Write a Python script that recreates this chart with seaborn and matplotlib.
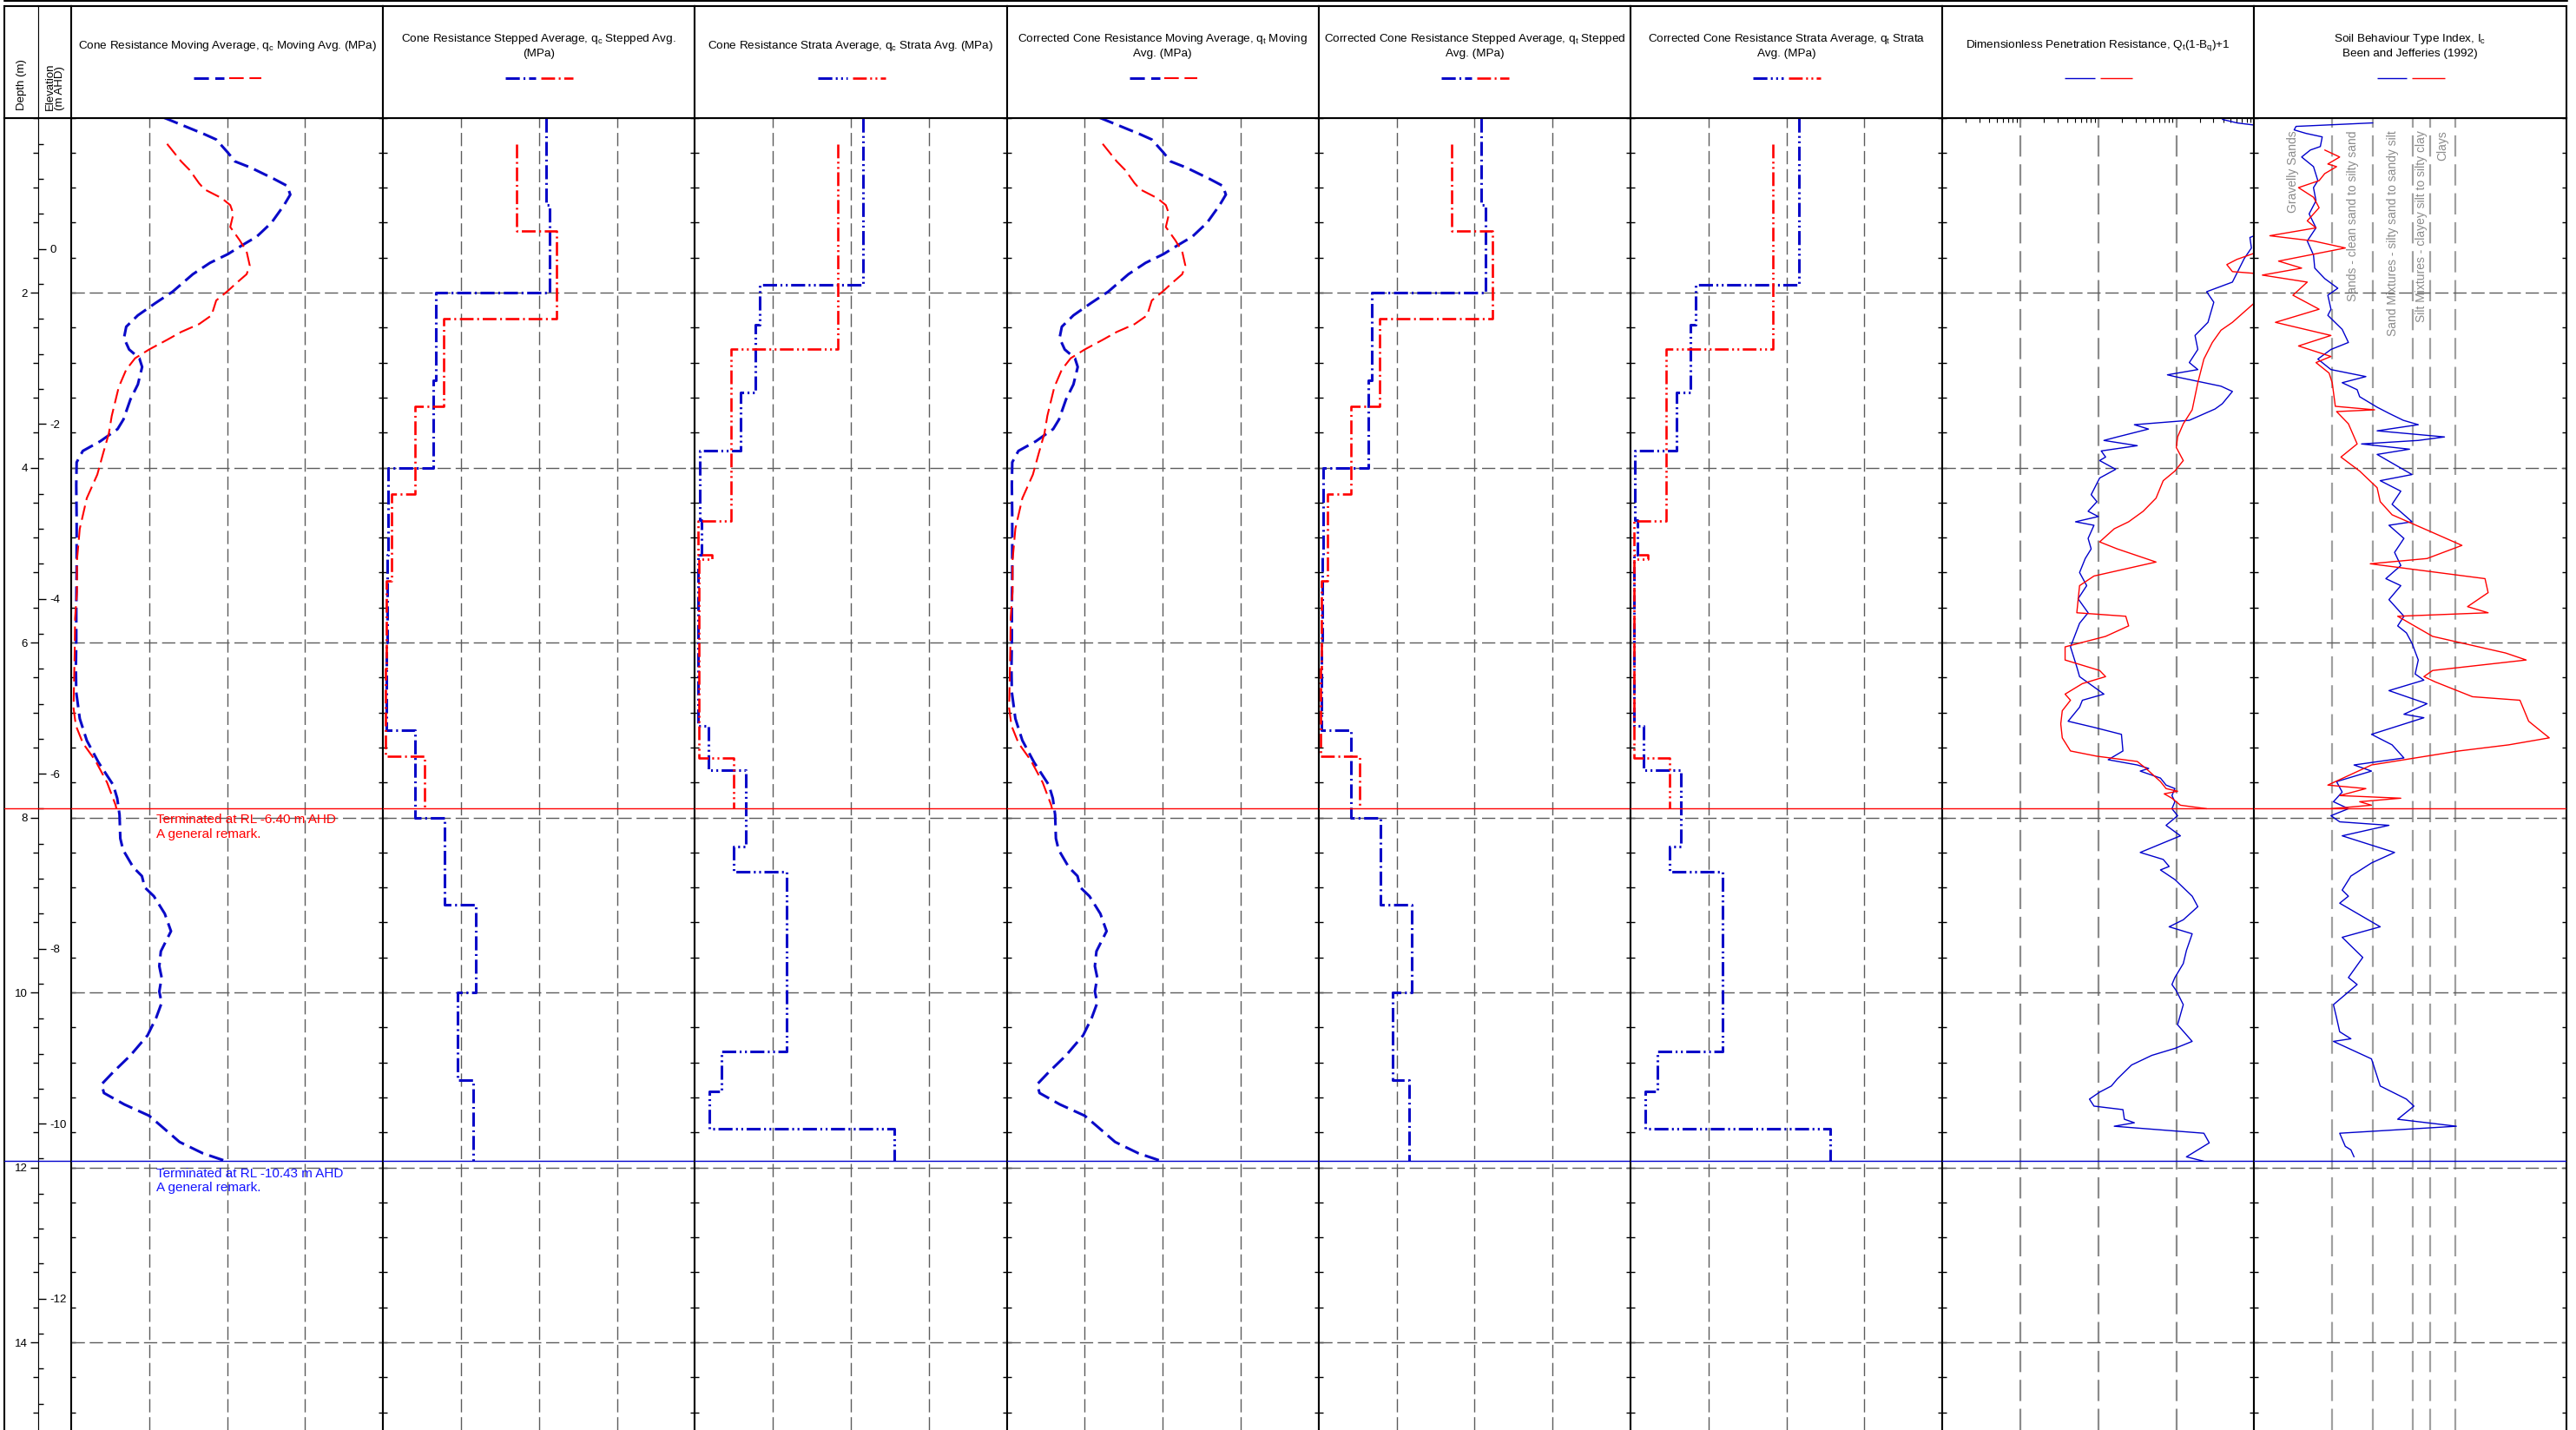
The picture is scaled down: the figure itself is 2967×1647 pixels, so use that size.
import numpy as np
import matplotlib
matplotlib.use("Agg")
import matplotlib.pyplot as plt
import matplotlib.transforms as mtransforms
from matplotlib.lines import Line2D
from matplotlib.ticker import MultipleLocator, LogLocator, NullFormatter
import seaborn as sns

# ---------------------------------------------------------------- data
ground_rl = 1.50
term_rl_red = -6.40
term_rl_blue = -10.43

# moving average of cone resistance (MPa) against depth (m)
mov_blue_depth = [0.0, 0.19, 0.25, 0.40, 0.50, 0.57, 0.70, 0.78, 0.88, 1.00, 1.20, 1.36, 1.46,
                  1.56, 1.66, 1.79, 1.99, 2.12, 2.26, 2.39, 2.52, 2.65, 2.75, 2.85, 3.05, 3.22,
                  3.45, 3.56, 3.70, 3.81, 3.94, 4.20, 4.60, 5.20, 5.60, 5.96, 6.30, 6.57, 6.87,
                  7.12, 7.37, 7.63, 7.78, 7.97, 8.24, 8.37, 8.57, 8.67, 8.80, 8.90, 9.10, 9.30,
                  9.53, 9.70, 9.83, 9.99, 10.12, 10.29, 10.49, 10.72, 10.91, 11.05, 11.15,
                  11.28, 11.41, 11.54, 11.71, 11.84, 11.93]
mov_blue_qc = [11.9, 17.1, 18.6, 20.1, 21.0, 23.0, 26.0, 27.7, 28.1, 27.3, 25.7, 23.8, 21.9,
               20.1, 17.8, 15.6, 13.0, 10.8, 8.55, 7.06, 6.77, 7.43, 8.74, 9.1, 8.55, 7.6,
               6.7, 5.95, 3.72, 1.49, 0.7, 0.65, 0.7, 0.7, 0.65, 0.65, 0.6, 0.65, 1.1,
               2.0, 3.5, 5.4, 5.9, 6.2, 6.3, 6.65, 7.96, 9.07, 9.44, 10.6, 12.0, 12.8,
               11.5, 11.3, 11.6, 11.3, 11.6, 10.9, 9.8, 7.6, 5.4, 3.9, 4.2,
               6.8, 10.0, 11.7, 13.9, 16.9, 19.9]
mov_red_depth = [0.30, 0.50, 0.60, 0.75, 0.82, 0.92, 1.00, 1.10, 1.25, 1.40, 1.53, 1.69, 1.79,
                 1.89, 1.98, 2.09, 2.26, 2.36, 2.45, 2.54, 2.65, 2.75, 2.88, 3.08, 3.41, 3.61,
                 3.84, 4.08, 4.35, 4.70, 5.06, 5.42, 5.72, 6.10, 6.44, 6.75, 6.95, 7.15, 7.35,
                 7.60, 7.86, 7.90]
mov_red_qc = [12.3, 14.1, 15.2, 16.4, 17.1, 19.3, 20.4, 20.8, 20.4, 21.6, 22.5, 22.9, 22.5,
              21.2, 20.1, 18.6, 18.0, 16.4, 14.1, 12.3, 10.0, 8.2, 7.06, 6.1, 5.2, 4.83,
              4.09, 3.35, 2.0, 1.1, 0.74, 0.74, 0.5, 0.45, 0.37, 0.3, 0.6, 1.5, 3.1,
              4.6, 5.7, 5.8]

# 1 m stepped averages (edges in m, values in MPa)
step_blue_edges = [0.0, 1.0, 2.0, 3.0, 4.0, 5.0, 6.0, 7.0, 8.0, 9.0, 10.0, 11.0, 11.93]
step_blue_qc = [20.9, 21.4, 6.8, 6.4, 0.6, 0.5, 0.4, 4.1, 7.9, 11.9, 9.5, 11.6]
step_red_edges = [0.3, 1.3, 2.3, 3.3, 4.3, 5.3, 6.3, 7.3, 7.9]
step_red_qc = [17.1, 22.3, 7.8, 4.1, 1.1, 0.4, 0.3, 5.3]

# strata averages
strata_blue_edges = [0.0, 1.91, 2.37, 3.14, 3.81, 4.6, 5.0, 6.95, 7.46, 8.33, 8.62, 10.67,
                     11.13, 11.56, 11.93]
strata_blue_qc = [21.6, 8.3, 7.7, 5.9, 0.6, 0.9, 0.4, 1.7, 6.5, 5.0, 11.8, 3.4, 1.9, 25.6]
strata_red_edges = [0.3, 2.65, 4.61, 5.0, 5.05, 7.32, 7.9]
strata_red_qc = [18.3, 4.6, 0.4, 2.2, 0.5, 5.0]

# corrected cone resistance traces coincide with the uncorrected ones at this scale
mov_blue_qt, mov_red_qt = mov_blue_qc, mov_red_qc
step_blue_qt, step_red_qt = step_blue_qc, step_red_qc
strata_blue_qt, strata_red_qt = strata_blue_qc, strata_red_qc

# dimensionless penetration resistance Qt(1-Bq)+1
q_blue_depth = [0.02, 0.06, 0.085, 0.15, 1.30, 1.35, 1.37, 1.49, 1.61, 1.88, 1.99, 2.11, 2.34,
                2.49, 2.65, 2.80, 2.88, 2.94, 2.96, 3.07, 3.13, 3.27, 3.33, 3.46, 3.51, 3.56,
                3.65, 3.69, 3.75, 3.81, 3.88, 3.92, 4.02, 4.12, 4.31, 4.39, 4.50, 4.56, 4.62,
                4.66, 4.81, 4.93, 5.04, 5.20, 5.35, 5.50, 5.66, 5.78, 6.05, 6.28, 6.39, 6.59,
                6.66, 6.74, 6.90, 6.97, 7.05, 7.24, 7.34, 7.40, 7.44, 7.47, 7.55, 7.63, 7.67,
                7.75, 7.82, 7.90, 7.98, 8.09, 8.21, 8.40, 8.48, 8.56, 8.60, 8.71, 8.90, 9.02,
                9.17, 9.25, 9.33, 9.52, 9.67, 9.83, 9.91, 9.98, 10.14, 10.37, 10.56, 10.64,
                10.72, 10.83, 10.99, 11.07, 11.14, 11.22, 11.30, 11.34, 11.45, 11.49, 11.53,
                11.61, 11.72, 11.88, 11.93]
q_blue = [390, 600, 1000, 1500, 1500, 1000, 880, 920, 745, 525, 245, 303, 255,
          174, 189, 147, 189, 77, 96, 375, 525, 390, 315, 147, 29, 44,
          17.5, 11.8, 31.6, 10.9, 12.4, 10.4, 16.7, 10.4, 8.1, 9.6, 7.4, 10.0, 5.1,
          8.8, 7.4, 8.1, 6.8, 5.75, 7.1, 5.5, 7.4, 5.75, 4.4, 5.3, 5.75, 11.8,
          6.25, 5.75, 4.1, 8.8, 19.8, 20.7, 13.4, 31.6, 44.3, 34.5, 62.7, 74, 96,
          88, 96, 88, 104, 74, 113, 34.5, 68, 81, 62.7, 96, 160, 189,
          123, 81, 160, 135, 123, 96, 88, 100, 123, 104, 160, 96,
          48.5, 26.7, 17.5, 14.7, 10.4, 7.7, 8.8, 20.7, 21.6, 29, 16,
          226, 265, 135, 226]
q_red_depth = [0.30, 1.50, 1.55, 1.62, 1.68, 1.76, 1.78, 1.80, 2.10, 2.12, 2.22, 2.34, 2.43,
               2.57, 2.76, 3.03, 3.34, 3.50, 3.65, 3.77, 3.92, 4.04, 4.15, 4.35, 4.50, 4.62,
               4.70, 4.85, 4.93, 5.08, 5.24, 5.35, 5.66, 5.70, 5.81, 5.93, 6.05, 6.20, 6.32,
               6.39, 6.47, 6.59, 6.66, 6.78, 6.93, 7.09, 7.24, 7.30, 7.36, 7.44, 7.59, 7.67,
               7.70, 7.73, 7.78, 7.86, 7.90]
q_red = [2000, 2000, 1000, 600, 445, 525, 1000, 2000, 2000, 1000, 745, 525, 375,
         290, 226, 189, 160, 123, 104, 100, 123, 96, 68, 55, 37.6, 24.5,
         16, 10.4, 17.5, 55, 8.8, 5.75, 5.3, 22.5, 24.5, 12.4, 3.75, 3.75, 10.4,
         12.4, 6.25, 3.75, 4.4, 3.45, 3.3, 3.45, 4.4, 9.6, 31.6, 40.9, 62.7, 74,
         104, 70, 88, 113, 245]

# soil behaviour type index Ic
ic_blue_depth = [0.06, 0.10, 0.14, 0.18, 0.22, 0.33, 0.37, 0.45, 0.56, 0.72, 0.80, 0.95, 1.10,
                 1.26, 1.41, 1.57, 1.72, 1.84, 1.95, 2.03, 2.19, 2.26, 2.42, 2.57, 2.65, 2.76,
                 2.88, 2.96, 3.03, 3.11, 3.19, 3.31, 3.38, 3.46, 3.51, 3.58, 3.65, 3.69, 3.73,
                 3.79, 3.85, 4.08, 4.15, 4.27, 4.42, 4.62, 4.66, 4.81, 4.97, 5.12, 5.27, 5.35,
                 5.51, 5.70, 5.81, 5.89, 6.01, 6.20, 6.36, 6.43, 6.55, 6.70, 6.82, 6.86, 7.05,
                 7.17, 7.32, 7.40, 7.47, 7.59, 7.71, 7.82, 7.90, 7.98, 8.05, 8.09, 8.21, 8.40,
                 8.52, 8.67, 8.83, 8.90, 8.98, 9.25, 9.37, 9.60, 9.83, 9.91, 10.14, 10.29,
                 10.45, 10.53, 10.56, 10.76, 11.07, 11.22, 11.30, 11.45, 11.53, 11.61, 11.76,
                 11.80, 11.88]
ic_blue = [1.90, 0.67, 0.64, 0.83, 1.09, 1.06, 0.90, 0.76, 0.95, 1.02, 0.95, 0.99, 0.88,
           0.99, 0.85, 0.95, 0.97, 1.13, 1.34, 1.18, 1.23, 1.18, 1.41, 1.51, 1.23, 1.02,
           1.23, 1.79, 1.41, 1.65, 1.69, 1.97, 2.16, 2.39, 2.63, 1.97, 3.05, 2.63, 1.72,
           2.49, 1.97, 2.53, 2.02, 2.35, 2.21, 2.53, 2.16, 2.40, 2.25, 2.35, 2.11, 2.35,
           2.16, 2.40, 2.30, 2.44, 2.53, 2.63, 2.58, 2.72, 2.16, 2.77, 2.40, 2.72, 1.88,
           2.21, 2.40, 1.60, 1.88, 1.32, 1.41, 1.27, 1.51, 1.23, 1.37, 2.16, 1.41, 2.25,
           1.88, 1.55, 1.41, 1.51, 1.37, 2.02, 1.41, 1.74, 1.51, 1.65, 1.27, 1.32,
           1.37, 1.55, 1.27, 1.88, 2.02, 2.44, 2.56, 2.30, 3.24, 1.37, 1.46,
           1.55, 1.60]
ic_red_depth = [0.37, 0.45, 0.53, 0.56, 0.64, 0.72, 0.80, 0.91, 1.03, 1.18, 1.26, 1.35, 1.41,
                1.49, 1.64, 1.72, 1.80, 1.88, 2.03, 2.19, 2.34, 2.49, 2.61, 2.73, 2.80, 2.92,
                3.03, 3.30, 3.34, 3.36, 3.50, 3.73, 3.88, 4.04, 4.23, 4.39, 4.54, 4.73, 4.89,
                5.04, 5.10, 5.27, 5.43, 5.59, 5.66, 5.70, 5.93, 6.12, 6.20, 6.32, 6.39, 6.45,
                6.62, 6.66, 6.90, 7.01, 7.09, 7.17, 7.24, 7.40, 7.63, 7.67, 7.75, 7.78, 7.82,
                7.86, 7.90]
ic_red = [1.13, 1.37, 1.18, 1.32, 1.13, 1.04, 0.71, 0.95, 1.04, 0.85, 0.99, 0.25, 0.95,
          1.46, 0.39, 0.76, 0.13, 0.85, 0.62, 1.04, 0.34, 1.23, 0.71, 1.23, 0.99, 1.20,
          1.25, 1.30, 1.93, 1.32, 1.51, 1.65, 1.39, 1.69, 1.97, 2.02, 2.21, 2.82, 3.33,
          2.77, 1.86, 3.70, 3.75, 3.42, 3.75, 2.30, 2.86, 4.03, 4.36, 2.86, 2.72, 2.90,
          3.50, 4.26, 4.40, 4.59, 4.73, 4.08, 3.28, 1.88, 1.18, 1.79, 1.37, 2.35, 1.69,
          1.88, 1.23]

ic_bounds = [1.25, 1.90, 2.54, 2.82, 3.22]
ic_zone_names = ["Gravelly Sands", "Sands - clean sand to silty sand",
                 "Sand Mixtures - silty sand to sandy silt",
                 "Silt Mixtures - clayey silt to silty clay", "Clays"]

linear_ticks = [0, 10, 20, 30, 40]
log_ticks = [0.1, 1, 10, 100, 1000]
log_tick_labels = ["0.1", "1", "10", "100", "1000"]
ic_ticks = [0, 1, 2, 3, 4, 5]

titles = [
    "Cone Resistance Moving Average, q$_c$ Moving Avg. (MPa)",
    "Cone Resistance Stepped Average, q$_c$ Stepped Avg.\n(MPa)",
    "Cone Resistance Strata Average, q$_c$ Strata Avg. (MPa)",
    "Corrected Cone Resistance Moving Average, q$_t$ Moving\nAvg. (MPa)",
    "Corrected Cone Resistance Stepped Average, q$_t$ Stepped\nAvg. (MPa)",
    "Corrected Cone Resistance Strata Average, q$_t$ Strata\nAvg. (MPa)",
    "Dimensionless Penetration Resistance, Q$_t$(1-B$_q$)+1",
    "Soil Behaviour Type Index, I$_c$\nBeen and Jefferies (1992)",
]

# ---------------------------------------------------------------- style
sns.set_style("ticks", {"axes.edgecolor": "black", "xtick.color": "black",
                        "ytick.color": "black", "text.color": "black"})
plt.rcParams["font.family"] = ["Liberation Sans", "DejaVu Sans"]
plt.rcParams["mathtext.default"] = "regular"
plt.rcParams["axes.unicode_minus"] = False

BLUE = "#0a0ac8"
BLUE_THIN = "#0000cc"
RED = "#ff0000"
GRID = "#5c5c5c"
ZONE = "#a0a0a0"
GRID_LS = (0, (11, 4))

STYLE_MOV_B = dict(color=BLUE, lw=2.2, ls=(0, (5.6, 2.4)))
STYLE_MOV_R = dict(color=RED, lw=1.5, ls=(0, (8, 3.2)))
STYLE_STEP_B = dict(color=BLUE, lw=2.2, ls=(0, (5.3, 1.4, 0.7, 1.4)))
STYLE_STEP_R = dict(color=RED, lw=1.9, ls=(0, (6.0, 1.6, 0.8, 1.6)))
STYLE_STR_B = dict(color=BLUE, lw=2.2, ls=(0, (5.3, 1.3, 0.7, 1.3, 0.7, 1.3)))
STYLE_STR_R = dict(color=RED, lw=1.9, ls=(0, (6.0, 1.5, 0.8, 1.5, 0.8, 1.5)))
STYLE_THIN_B = dict(color=BLUE_THIN, lw=1.0, ls="-")
STYLE_THIN_R = dict(color=RED, lw=1.0, ls="-")


def step_path(edges, values):
    xs, ys = [], []
    for v, d0, d1 in zip(values, edges[:-1], edges[1:]):
        xs += [v, v]
        ys += [d0, d1]
    return xs, ys


W_PX, H_PX, DPI = 2967, 1647, 100
HEAD_TOP, DATA_TOP = 7.0, 135.5
PX_PER_M = 100.75
DEPTH_MAX = (H_PX - DATA_TOP) / PX_PER_M
col_edges = [82.0, 441.2, 800.4, 1159.6, 1518.8, 1878.0, 2237.2, 2596.4, 2955.6]

fig = plt.figure(figsize=(W_PX / DPI, H_PX / DPI), dpi=DPI)


def rect(x0, x1, y0, y1):
    return [x0 / W_PX, 1 - y1 / H_PX, (x1 - x0) / W_PX, (y1 - y0) / H_PX]


def frame(ax, lw=1.5, left=None, right=None):
    for s in ax.spines.values():
        s.set_linewidth(lw)
        s.set_color("black")
    if left is not None:
        ax.spines["left"].set_linewidth(left)
    if right is not None:
        ax.spines["right"].set_linewidth(right)


def header(x0, x1):
    hax = fig.add_axes(rect(x0, x1, HEAD_TOP, DATA_TOP))
    hax.set_xlim(0, 1)
    hax.set_ylim(0, 1)
    hax.set_xticks([])
    hax.set_yticks([])
    frame(hax)
    return hax


def termination_lines(ax, to_y):
    ax.axhline(to_y(term_rl_red), color=RED, lw=1.0, zorder=4)
    ax.axhline(to_y(term_rl_blue), color=BLUE_THIN, lw=1.0, zorder=4)


def rl_to_depth(rl):
    return ground_rl - rl


# top rule
fig.add_artist(Line2D([5 / W_PX, 2957 / W_PX], [1 - 1.2 / H_PX] * 2, color="black",
                      lw=1.5, transform=fig.transFigure))

# ---------------------------------------------------------------- depth column
axd = fig.add_axes(rect(5, 44, DATA_TOP, H_PX))
axd.set_xlim(0, 1)
axd.set_ylim(DEPTH_MAX, 0)
axd.set_xticks([])
axd.yaxis.tick_right()
depth_major = np.arange(2, 15, 2)
axd.set_yticks(depth_major, labels=[f"{d:d}" for d in depth_major])
axd.yaxis.set_minor_locator(MultipleLocator(0.4))
axd.tick_params(axis="y", which="major", direction="in", length=6.5, width=1.0,
                pad=-8.8, labelsize=9.5, right=True, left=False,
                labelright=True, labelleft=False)
axd.tick_params(axis="y", which="minor", direction="in", length=4.3, width=1.0,
                right=True, left=False)
for lab in axd.get_yticklabels():
    lab.set_ha("right")
frame(axd, right=0.8)
axd.spines["bottom"].set_visible(False)
termination_lines(axd, rl_to_depth)
hd = header(5, 44)
frame(hd, right=0.8)
hd.text(0.513, 0.066, "Depth (m)", rotation=90, ha="center", va="bottom", fontsize=9.5,
        transform=hd.transAxes)

# ---------------------------------------------------------------- elevation column
axe = fig.add_axes(rect(44, 82, DATA_TOP, H_PX))
axe.set_xlim(0, 1)
axe.set_ylim(ground_rl - DEPTH_MAX, ground_rl)
axe.set_xticks([])
elev_major = np.arange(0, -13, -2)
axe.set_yticks(elev_major, labels=[f"{e:d}" for e in elev_major])
axe.yaxis.set_minor_locator(MultipleLocator(0.4))
axe.tick_params(axis="y", which="major", direction="in", length=6.5, width=1.0,
                pad=-9.6, labelsize=9.5, left=True, right=False)
axe.tick_params(axis="y", which="minor", direction="in", length=4.3, width=1.0,
                left=True, right=False)
for lab in axe.get_yticklabels():
    lab.set_ha("left")
frame(axe, left=0.8)
axe.spines["bottom"].set_visible(False)
termination_lines(axe, lambda rl: rl)
he = header(44, 82)
frame(he, left=0.8)
he.text(0.51, 0.066, "Elevation\n(m AHD)", rotation=90, ha="center", va="bottom",
        multialignment="left", fontsize=9.5, linespacing=1.0, transform=he.transAxes)

# ---------------------------------------------------------------- panels
sb_x, sb_y = step_path(step_blue_edges, step_blue_qc)
sr_x, sr_y = step_path(step_red_edges, step_red_qc)
tb_x, tb_y = step_path(strata_blue_edges, strata_blue_qc)
tr_x, tr_y = step_path(strata_red_edges, strata_red_qc)
sbt_x, sbt_y = step_path(step_blue_edges, step_blue_qt)
srt_x, srt_y = step_path(step_red_edges, step_red_qt)
tbt_x, tbt_y = step_path(strata_blue_edges, strata_blue_qt)
trt_x, trt_y = step_path(strata_red_edges, strata_red_qt)

panels = [
    ("lin", [(mov_blue_qc, mov_blue_depth, STYLE_MOV_B), (mov_red_qc, mov_red_depth, STYLE_MOV_R)]),
    ("lin", [(sb_x, sb_y, STYLE_STEP_B), (sr_x, sr_y, STYLE_STEP_R)]),
    ("lin", [(tb_x, tb_y, STYLE_STR_B), (tr_x, tr_y, STYLE_STR_R)]),
    ("lin", [(mov_blue_qt, mov_blue_depth, STYLE_MOV_B), (mov_red_qt, mov_red_depth, STYLE_MOV_R)]),
    ("lin", [(sbt_x, sbt_y, STYLE_STEP_B), (srt_x, srt_y, STYLE_STEP_R)]),
    ("lin", [(tbt_x, tbt_y, STYLE_STR_B), (trt_x, trt_y, STYLE_STR_R)]),
    ("log", [(q_blue, q_blue_depth, STYLE_THIN_B), (q_red, q_red_depth, STYLE_THIN_R)]),
    ("ic", [(ic_blue, ic_blue_depth, STYLE_THIN_B), (ic_red, ic_red_depth, STYLE_THIN_R)]),
]

for i, (kind, series) in enumerate(panels):
    x0, x1 = col_edges[i], col_edges[i + 1]
    ax = fig.add_axes(rect(x0, x1, DATA_TOP, H_PX))
    if kind == "log":
        ax.set_xscale("log")

    for xs, ys, st in series:
        sns.lineplot(x=xs, y=ys, orient="y", sort=False, estimator=None, ax=ax,
                     color=st["color"], linewidth=st["lw"], linestyle=st["ls"],
                     legend=False, zorder=3)

    ax.set_xlabel("")
    ax.set_ylabel("")
    ax.set_ylim(DEPTH_MAX, 0)

    if kind == "lin":
        ax.set_xlim(0, 40)
        ax.set_xticks(linear_ticks, labels=[str(t) for t in linear_ticks])
        for gx in linear_ticks[1:-1]:
            ax.axvline(gx, color=GRID, lw=1.0, ls=GRID_LS, zorder=1)
    elif kind == "log":
        ax.set_xlim(0.1, 1000)
        ax.set_xticks(log_ticks, labels=log_tick_labels)
        ax.xaxis.set_minor_locator(LogLocator(base=10, subs=np.arange(2, 10)))
        ax.xaxis.set_minor_formatter(NullFormatter())
        for gx in log_ticks[1:-1]:
            ax.axvline(gx, color="#8c8c8c", lw=1.6, ls=GRID_LS, zorder=1)
    else:
        ax.set_xlim(0, 5)
        ax.set_xticks(ic_ticks, labels=[str(t) for t in ic_ticks])
        for gx in ic_bounds:
            ax.axvline(gx, color=ZONE, lw=1.6, ls=GRID_LS, zorder=1)
        mids = [(a + b) / 2 for a, b in zip([0] + ic_bounds[:-1], ic_bounds)]
        for name, mx in zip(ic_zone_names, mids):
            ax.text(mx, 0.15, name, rotation=90, ha="center", va="top", fontsize=10,
                    color="#8a8a8a", zorder=2)

    for gd in np.arange(2, 15, 2):
        ax.axhline(gd, color=GRID, lw=1.0, ls=GRID_LS, zorder=1)

    ax.xaxis.tick_top()
    ax.tick_params(axis="x", which="major", top=True, bottom=False, labeltop=True,
                   labelbottom=False, length=0, pad=1.5, labelsize=9.5)
    if kind == "log":
        ax.tick_params(axis="x", which="both", top=True, bottom=False, direction="in",
                       length=3.5, width=0.8)
    xl = ax.get_xticklabels()
    xl[0].set_ha("left")
    xl[-1].set_ha("right")

    ax.yaxis.set_major_locator(MultipleLocator(0.4))
    ax.yaxis.set_major_formatter(NullFormatter())
    ax.tick_params(axis="y", which="major", left=True, right=True, labelleft=False,
                   labelright=False, direction="in", length=3.6, width=1.0)
    frame(ax)
    ax.spines["bottom"].set_visible(False)
    termination_lines(ax, rl_to_depth)

    if i == 0:
        tr = mtransforms.blended_transform_factory(ax.transAxes, ax.transData)
        ax.text(0.273, rl_to_depth(term_rl_red) + 0.06,
                f"Terminated at RL {term_rl_red:.2f} m AHD\nA general remark.",
                color=RED, fontsize=11, ha="left", va="top", transform=tr, zorder=5)
        ax.text(0.273, rl_to_depth(term_rl_blue) + 0.07,
                f"Terminated at RL {term_rl_blue:.2f} m AHD\nA general remark.",
                color="#1414ff", fontsize=11, ha="left", va="top", transform=tr, zorder=5)

    hax = header(x0, x1)
    hax.text(0.5, 0.645, titles[i], ha="center", va="center", fontsize=9.7,
             linespacing=1.25, transform=hax.transAxes)
    sb, sr = series[0][2], series[1][2]
    hax.plot([0.393, 0.49], [0.354, 0.354], color=sb["color"], lw=sb["lw"], ls=sb["ls"],
             solid_capstyle="butt")
    hax.plot([0.506, 0.61], [0.354, 0.354], color=sr["color"], lw=sr["lw"], ls=sr["ls"],
             solid_capstyle="butt")

fig.savefig("out.png", dpi=DPI)
